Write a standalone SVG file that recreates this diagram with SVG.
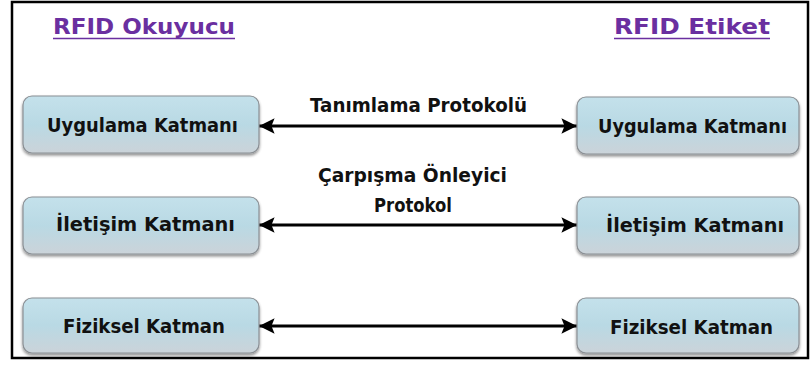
<svg xmlns="http://www.w3.org/2000/svg" width="811" height="372" viewBox="0 0 811 372">
<style>
  .hdr { font-family: "DejaVu Sans", "Liberation Sans", sans-serif; font-size: 21px; font-weight: bold; fill: #6a2fa0; }
  .lbl { font-family: "DejaVu Sans", "Liberation Sans", sans-serif; font-size: 20px; font-weight: bold; fill: #111; }
  .box { fill: url(#g); stroke: #8a8f94; stroke-width: 1.2; filter: url(#sh); }
  .con { stroke: #000; stroke-width: 3; fill: none; marker-start: url(#ah); marker-end: url(#ah); }
</style>
<defs>
  <linearGradient id="g" x1="0" y1="0" x2="0" y2="1">
    <stop offset="0" stop-color="#c4e1eb"/>
    <stop offset="0.5" stop-color="#b9d9e4"/>
    <stop offset="1" stop-color="#cbd3d9"/>
  </linearGradient>
  <filter id="sh" x="-10%" y="-20%" width="120%" height="150%">
    <feGaussianBlur in="SourceAlpha" stdDeviation="1.5"/>
    <feOffset dx="0" dy="2" result="b"/>
    <feComponentTransfer><feFuncA type="linear" slope="0.45"/></feComponentTransfer>
    <feMerge><feMergeNode/><feMergeNode in="SourceGraphic"/></feMerge>
  </filter>
  <marker id="ah" viewBox="0 0 10 10" refX="10" refY="5" markerWidth="6" markerHeight="5.2" orient="auto-start-reverse" markerUnits="strokeWidth">
    <path d="M0,0 L10,5 L0,10 L2,5 Z" fill="#000"/>
  </marker>
</defs>
<rect x="12" y="2" width="796" height="356" fill="#fff" stroke="#000" stroke-width="2.5"/>
<g id="headers">
  <text class="hdr" x="53" y="34" textLength="182" lengthAdjust="spacingAndGlyphs">RFID Okuyucu</text>
  <line x1="53" y1="38.5" x2="235" y2="38.5" stroke="#6a2fa0" stroke-width="1.6"/>
  <text class="hdr" x="614" y="34" textLength="156" lengthAdjust="spacingAndGlyphs">RFID Etiket</text>
  <line x1="614" y1="38.5" x2="770" y2="38.5" stroke="#6a2fa0" stroke-width="1.6"/>
</g>
<g id="connectors">
  <line class="con" x1="259" y1="126" x2="577" y2="126"/>
  <line class="con" x1="259" y1="225" x2="577" y2="225"/>
  <line class="con" x1="259" y1="326" x2="577" y2="326"/>
  <text class="lbl" x="310" y="112" textLength="217" lengthAdjust="spacingAndGlyphs">Tanımlama Protokolü</text>
  <text class="lbl" x="318" y="182" textLength="189" lengthAdjust="spacingAndGlyphs">Çarpışma Önleyici</text>
  <text class="lbl" x="374" y="212" textLength="78" lengthAdjust="spacingAndGlyphs">Protokol</text>
</g>
<g id="okuyucu-uygulama">
  <rect class="box" x="23" y="96" width="236" height="57" rx="9"/>
  <text class="lbl" x="47" y="132" textLength="191" lengthAdjust="spacingAndGlyphs">Uygulama Katmanı</text>
</g>
<g id="okuyucu-iletisim">
  <rect class="box" x="23" y="197" width="236" height="57" rx="9"/>
  <text class="lbl" x="56" y="231" textLength="179" lengthAdjust="spacingAndGlyphs">İletişim Katmanı</text>
</g>
<g id="okuyucu-fiziksel">
  <rect class="box" x="23" y="298" width="236" height="55" rx="9"/>
  <text class="lbl" x="63" y="333" textLength="162" lengthAdjust="spacingAndGlyphs">Fiziksel Katman</text>
</g>
<g id="etiket-uygulama">
  <rect class="box" x="577" y="97" width="222" height="57" rx="9"/>
  <text class="lbl" x="598" y="133" textLength="189" lengthAdjust="spacingAndGlyphs">Uygulama Katmanı</text>
</g>
<g id="etiket-iletisim">
  <rect class="box" x="577" y="197" width="222" height="57" rx="9"/>
  <text class="lbl" x="606" y="232" textLength="178" lengthAdjust="spacingAndGlyphs">İletişim Katmanı</text>
</g>
<g id="etiket-fiziksel">
  <rect class="box" x="577" y="298" width="222" height="55" rx="9"/>
  <text class="lbl" x="610" y="334" textLength="163" lengthAdjust="spacingAndGlyphs">Fiziksel Katman</text>
</g>
</svg>
